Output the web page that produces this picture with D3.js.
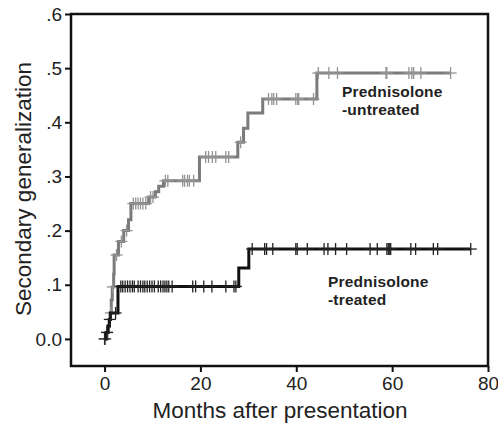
<!DOCTYPE html>
<html>
<head>
<meta charset="utf-8">
<script src="https://cdn.jsdelivr.net/npm/d3@7"></script>
<style>
  body { margin: 0; background: #fff; }
  svg { display: block; font-family: Arial, "Liberation Sans", sans-serif; }
</style>
</head>
<body>
<svg id="chart" width="498" height="427"></svg>
<script>
// ---- data ----
const xTicks = [0, 20, 40, 60, 80];
const yTicks = [0, 0.1, 0.2, 0.3, 0.4, 0.5, 0.6];
const yTickLabels = ["0.0", ".1", ".2", ".3", ".4", ".5", ".6"];

// untreated: event times (months) and cumulative proportion after each event
const untreatedTimes  = [0.5, 0.8, 1.0, 1.2, 1.4, 1.6, 1.9, 2.0, 2.9, 4.0, 5.0, 5.5, 9.2, 10.6, 11.3, 12.3, 19.8, 27.8, 29.0, 29.9, 33.0, 44.3];
const untreatedValues = [0.012, 0.024, 0.036, 0.048, 0.072, 0.096, 0.12, 0.155, 0.18, 0.20, 0.22, 0.25, 0.262, 0.272, 0.282, 0.292, 0.336, 0.363, 0.389, 0.417, 0.443, 0.491];
const untreatedEnd = 72.2;
const untreatedCensored = [0.2, 0.6, 1.3, 1.7, 2.5, 3.5, 4.6, 6.0, 6.5, 7.0, 7.5, 8.0, 8.6, 9.6, 10.1, 12.7, 13.2, 16.3, 16.7, 17.3, 17.7, 18.6,
  21.1, 21.7, 22.5, 23.2, 25.3, 25.9, 28.4, 34.2, 34.9, 35.3, 35.9, 39.9, 40.3, 40.5, 43.6,
  44.6, 46.8, 48.6, 58.7, 58.9, 63.5, 64.1, 64.5, 66.0, 72.2];

// treated
const treatedTimes  = [0.3, 0.7, 1.0, 1.2, 2.8, 28.0, 30.1];
const treatedValues = [0.012, 0.024, 0.036, 0.048, 0.097, 0.131, 0.166];
const treatedEnd = 76.4;
const treatedCensored = [0, 0.5, 1.1, 2.3, 3.4, 3.8, 4.3, 4.8, 5.3, 5.8, 6.2, 7.0, 7.5, 8.0, 8.4, 8.9, 9.4, 9.9, 10.4, 11.2, 11.7, 12.2, 12.6, 13.0, 13.4, 14.1,
  18.4, 19.0, 20.7, 22.4, 25.3, 27.0, 27.4,
  30.8, 33.4, 33.8, 35.1, 39.9, 40.2, 42.3, 45.8, 46.6, 48.2, 50.5, 55.4, 56.9, 58.9, 59.2, 59.5, 59.7, 63.9, 64.9, 68.6, 69.5, 76.4];

// ---- layout ----
const svg = d3.select("#chart");
const plotLeft = 71, plotRight = 488, plotTop = 14, plotBottom = 366;

const x = d3.scaleLinear().domain([-7, 80]).range([plotLeft, plotRight]);
const y = d3.scaleLinear().domain([-0.05, 0.6]).range([plotBottom, plotTop]);

// step helpers
function stepPoints(times, values, end) {
  const pts = [[0, 0]];
  let v = 0;
  times.forEach((t, i) => {
    pts.push([t, v]);
    v = values[i];
    pts.push([t, v]);
  });
  pts.push([end, v]);
  return pts;
}
function valueAt(times, values, t) {
  let v = 0;
  times.forEach((tt, i) => { if (tt <= t) v = values[i]; });
  return v;
}

const line = d3.line().x(d => x(d[0])).y(d => y(d[1]));

function drawGroup(times, values, end, censored, lineColor, markColor) {
  const g = svg.append("g");
  g.append("path")
    .attr("d", line(stepPoints(times, values, end)))
    .attr("fill", "none")
    .attr("stroke", lineColor)
    .attr("stroke-width", 3)
    .attr("stroke-linejoin", "miter");

  const marks = g.selectAll("g.mark")
    .data(censored)
    .enter().append("g")
    .attr("transform", t => `translate(${x(t)},${y(valueAt(times, values, t))})`);
  marks.append("line")
    .attr("x1", 0).attr("x2", 0).attr("y1", -6).attr("y2", 6)
    .attr("stroke", markColor).attr("stroke-width", 1.3);
  marks.append("line")
    .attr("x1", -6).attr("x2", 6).attr("y1", 0).attr("y2", 0)
    .attr("stroke", markColor).attr("stroke-width", 1.3);
}

drawGroup(untreatedTimes, untreatedValues, untreatedEnd, untreatedCensored, "#7b7b7b", "#939393");
drawGroup(treatedTimes, treatedValues, treatedEnd, treatedCensored, "#111", "#222");

// ---- frame & axes ----
svg.append("rect")
  .attr("x", plotLeft).attr("y", plotTop)
  .attr("width", plotRight - plotLeft).attr("height", plotBottom - plotTop)
  .attr("fill", "none").attr("stroke", "#111").attr("stroke-width", 2.5);

const xAxis = svg.append("g")
  .attr("transform", `translate(0,${plotBottom})`)
  .call(d3.axisBottom(x).tickValues(xTicks).tickSize(6).tickPadding(5).tickFormat(d3.format("d")));
const yAxis = svg.append("g")
  .attr("transform", `translate(${plotLeft},0)`)
  .call(d3.axisLeft(y).tickValues(yTicks).tickSize(6).tickPadding(3).tickFormat((d, i) => yTickLabels[i]));

[xAxis, yAxis].forEach(a => {
  a.select(".domain").remove();
  a.selectAll(".tick line").attr("stroke", "#111").attr("stroke-width", 2);
  a.selectAll(".tick text").attr("fill", "#222").style("font-size", "19px").style("font-family", "Arial, 'Liberation Sans', sans-serif");
});

// ---- axis titles ----
svg.append("text")
  .attr("x", 280).attr("y", 418)
  .attr("text-anchor", "middle")
  .attr("fill", "#222")
  .style("font-size", "22.5px")
  .text("Months after presentation");

svg.append("text")
  .attr("transform", `translate(31,189) rotate(-90)`)
  .attr("text-anchor", "middle")
  .attr("fill", "#222")
  .style("font-size", "22.5px")
  .text("Secondary generalization");

// ---- group labels ----
const labels = [
  { x: 342, y: 97, lines: ["Prednisolone", "-untreated"] },
  { x: 328, y: 287, lines: ["Prednisolone", "-treated"] }
];
labels.forEach(l => {
  const t = svg.append("text")
    .attr("x", l.x).attr("y", l.y)
    .attr("fill", "#222")
    .style("font-size", "15.5px")
    .style("font-weight", "bold")
    .style("letter-spacing", "0.2px");
  l.lines.forEach((s, i) => {
    t.append("tspan").attr("x", l.x).attr("dy", i === 0 ? 0 : 18).text(s);
  });
});
</script>
</body>
</html>
